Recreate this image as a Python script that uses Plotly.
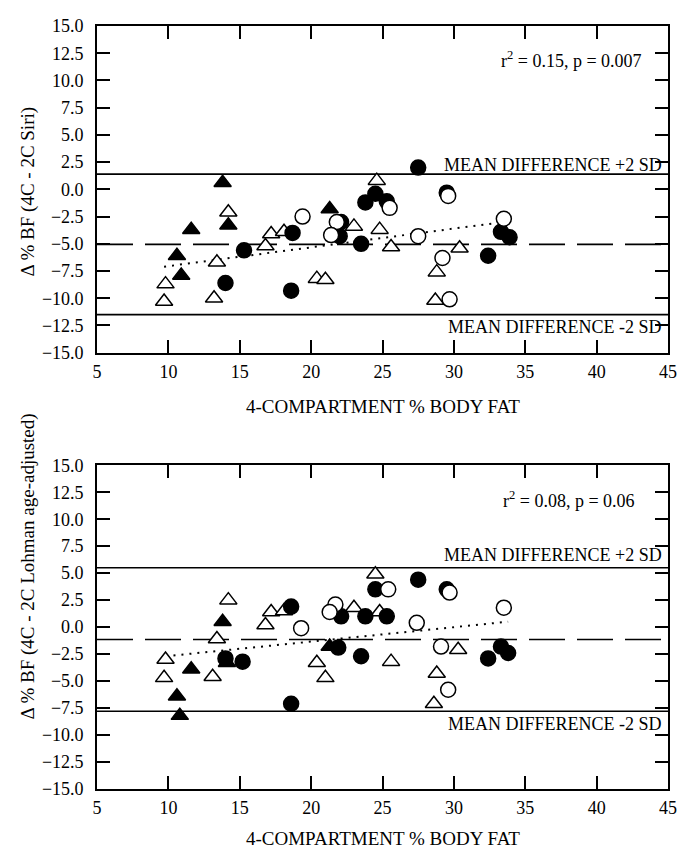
import plotly.graph_objects as go

# ---------------- Top panel (4C - 2C Siri) ----------------
top_filled_circle_x = [14.0, 15.3, 18.7, 18.6, 22.1, 22.0, 23.5, 23.8, 24.5, 25.3, 27.5, 29.5, 32.4, 33.3, 33.9]
top_filled_circle_y = [-8.6, -5.6, -4.0, -9.3, -3.0, -4.3, -5.0, -1.2, -0.4, -1.1, 2.0, -0.3, -6.1, -3.9, -4.4]
top_open_circle_x = [19.4, 21.8, 21.4, 25.5, 27.5, 29.6, 29.2, 29.7, 33.5]
top_open_circle_y = [-2.5, -3.0, -4.2, -1.7, -4.3, -0.6, -6.3, -10.1, -2.7]
top_filled_tri_x = [13.8, 14.2, 11.6, 10.6, 10.9, 21.3]
top_filled_tri_y = [0.6, -3.3, -3.7, -6.1, -7.9, -1.8]
top_open_tri_x = [14.2, 9.8, 9.7, 13.4, 13.2, 16.8, 17.2, 18.1, 20.4, 21.0, 23.0, 24.6, 24.8, 25.6, 28.8, 28.7, 30.4]
top_open_tri_y = [-2.1, -8.7, -10.3, -6.7, -10.0, -5.2, -4.1, -3.9, -8.2, -8.3, -3.4, 0.8, -3.7, -5.3, -7.6, -10.2, -5.4]
top_mean, top_upper, top_lower = -5.05, 1.4, -11.5
top_fit_x = [9.7, 32.9]
top_fit_y = [-7.1, -3.1]
top_stat_text = "r<sup>2</sup> = 0.15, p = 0.007"
top_ytitle = "Δ % BF (4C - 2C Siri)"

# ---------------- Bottom panel (4C - 2C Lohman age-adjusted) ----------------
bot_filled_circle_x = [14.0, 15.2, 18.6, 18.6, 21.9, 22.1, 23.5, 23.8, 24.5, 25.3, 27.5, 29.5, 32.4, 33.3, 33.8]
bot_filled_circle_y = [-2.9, -3.2, 1.9, -7.1, -1.9, 1.0, -2.7, 1.0, 3.5, 1.0, 4.4, 3.5, -2.9, -1.8, -2.4]
bot_open_circle_x = [19.3, 21.7, 21.3, 25.4, 27.4, 29.7, 29.1, 29.6, 33.5]
bot_open_circle_y = [-0.1, 2.1, 1.4, 3.5, 0.4, 3.2, -1.8, -5.8, 1.8]
bot_filled_tri_x = [13.8, 14.1, 11.6, 10.6, 10.8, 21.3]
bot_filled_tri_y = [0.5, -3.3, -3.9, -6.4, -8.2, -1.8]
bot_open_tri_x = [14.2, 9.8, 9.7, 13.4, 13.1, 16.8, 17.2, 18.1, 20.4, 21.0, 23.0, 24.5, 24.8, 25.6, 28.8, 28.6, 30.3]
bot_open_tri_y = [2.5, -3.0, -4.7, -1.1, -4.6, 0.2, 1.4, 1.5, -3.3, -4.7, 1.8, 4.9, 1.4, -3.2, -4.3, -7.1, -2.1]
bot_mean, bot_upper, bot_lower = -1.15, 5.5, -7.8
bot_fit_x = [9.8, 33.8]
bot_fit_y = [-2.7, 0.5]
bot_stat_text = "r<sup>2</sup> = 0.08, p = 0.06"
bot_ytitle = "Δ % BF (4C - 2C Lohman age-adjusted)"

x_title = "4-COMPARTMENT % BODY FAT"
upper_label = "MEAN DIFFERENCE +2 SD"
lower_label = "MEAN DIFFERENCE -2 SD"
x_ticks = [5, 10, 15, 20, 25, 30, 35, 40, 45]
y_ticks = [15.0, 12.5, 10.0, 7.5, 5.0, 2.5, 0.0, -2.5, -5.0, -7.5, -10.0, -12.5, -15.0]
x_range = [5, 45]
y_range = [-15, 15]

FONT = "Liberation Serif, Times New Roman, serif"
# page body has an 8px margin: keep the figure inside the 685x858 window
OFF = 8
W, H = 685 - OFF, 858 - 2 * OFF
fig = go.Figure()


def add_panel(xa, ya, fc, oc, ft, ot, mean, upper, lower, fitx, fity):
    for yv, dash in [(upper, "solid"), (lower, "solid"), (mean, "36px,12px")]:
        fig.add_trace(go.Scatter(x=x_range, y=[yv, yv], mode="lines", xaxis=xa, yaxis=ya,
                                 line=dict(color="black", width=1.6, dash=dash),
                                 showlegend=False, hoverinfo="skip"))
    fig.add_trace(go.Scatter(x=fitx, y=fity, mode="lines", xaxis=xa, yaxis=ya,
                             line=dict(color="black", width=2, dash="2px,6px"),
                             showlegend=False, hoverinfo="skip"))
    fig.add_trace(go.Scatter(x=ot[0], y=ot[1], mode="markers", xaxis=xa, yaxis=ya,
                             marker=dict(symbol="triangle-up", size=15, color="white",
                                         line=dict(color="black", width=1.5)),
                             showlegend=False))
    fig.add_trace(go.Scatter(x=ft[0], y=ft[1], mode="markers", xaxis=xa, yaxis=ya,
                             marker=dict(symbol="triangle-up", size=15, color="black",
                                         line=dict(color="black", width=1.5)),
                             showlegend=False))
    fig.add_trace(go.Scatter(x=fc[0], y=fc[1], mode="markers", xaxis=xa, yaxis=ya,
                             marker=dict(symbol="circle", size=15, color="black",
                                         line=dict(color="black", width=1.5)),
                             showlegend=False))
    fig.add_trace(go.Scatter(x=oc[0], y=oc[1], mode="markers", xaxis=xa, yaxis=ya,
                             marker=dict(symbol="circle", size=15, color="white",
                                         line=dict(color="black", width=1.5)),
                             showlegend=False))


add_panel("x", "y", (top_filled_circle_x, top_filled_circle_y), (top_open_circle_x, top_open_circle_y),
          (top_filled_tri_x, top_filled_tri_y), (top_open_tri_x, top_open_tri_y),
          top_mean, top_upper, top_lower, top_fit_x, top_fit_y)
add_panel("x2", "y2", (bot_filled_circle_x, bot_filled_circle_y), (bot_open_circle_x, bot_open_circle_y),
          (bot_filled_tri_x, bot_filled_tri_y), (bot_open_tri_x, bot_open_tri_y),
          bot_mean, bot_upper, bot_lower, bot_fit_x, bot_fit_y)

# screen-pixel targets (window coordinates)
S_LEFT, S_RIGHT = 97, 673
S_TOP1, S_BOT1 = 16, 347
S_TOP2, S_BOT2 = 461, 789

ML = S_LEFT - OFF
MR = W - (S_RIGHT - OFF)
MT = S_TOP1 - OFF
MB = H - (S_BOT2 - OFF)
PH = H - MT - MB
PW = W - ML - MR


def py2paper(py):
    return (H - MB - (py - OFF)) / PH


def px2paper(px):
    return (px - OFF - ML) / PW


axis_common = dict(showline=True, linecolor="black", linewidth=1.6, mirror="ticks",
                   ticks="inside", ticklen=13, tickwidth=1.5, tickcolor="black",
                   showgrid=False, zeroline=False,
                   tickfont=dict(family=FONT, size=18, color="black"))

fig.update_layout(
    width=W, height=H,
    margin=dict(l=ML, r=MR, t=MT, b=MB),
    paper_bgcolor="white", plot_bgcolor="white",
    showlegend=False,
    xaxis=dict(domain=[0, 1], range=x_range, tickvals=x_ticks, anchor="y",
               ticklabelstandoff=2, **axis_common),
    yaxis=dict(domain=[py2paper(S_BOT1), 1], range=y_range, tickvals=y_ticks, tickformat=".1f",
               anchor="x", ticklabelstandoff=8, **axis_common),
    xaxis2=dict(domain=[0, 1], range=x_range, tickvals=x_ticks, anchor="y2",
                ticklabelstandoff=2, **axis_common),
    yaxis2=dict(domain=[0, py2paper(S_TOP2)], range=y_range, tickvals=y_ticks, tickformat=".1f",
                anchor="x2", ticklabelstandoff=8, **axis_common),
)

ann_font = dict(family=FONT, size=18, color="black")
title_font = dict(family=FONT, size=19, color="black")
anns = [
    dict(x=43.3, y=11.9, xref="x", yref="y", text=top_stat_text, xanchor="right", yanchor="middle"),
    dict(x=44.75, y=2.2, xref="x", yref="y", text=upper_label, xanchor="right", yanchor="middle"),
    dict(x=44.75, y=-12.6, xref="x", yref="y", text=lower_label, xanchor="right", yanchor="middle"),
    dict(x=42.8, y=11.8, xref="x2", yref="y2", text=bot_stat_text, xanchor="right", yanchor="middle"),
    dict(x=44.75, y=6.7, xref="x2", yref="y2", text=upper_label, xanchor="right", yanchor="middle"),
    dict(x=44.75, y=-9.0, xref="x2", yref="y2", text=lower_label, xanchor="right", yanchor="middle"),
]
for a in anns:
    fig.add_annotation(showarrow=False, font=ann_font, **a)

for py in (S_BOT1 + 54, S_BOT2 + 50):
    fig.add_annotation(x=0.5, y=py2paper(py), xref="paper", yref="paper", text=x_title,
                       showarrow=False, font=title_font, xanchor="center", yanchor="middle")
for py, txt in ((184, top_ytitle), (564, bot_ytitle)):
    fig.add_annotation(x=px2paper(27), y=py2paper(py), xref="paper", yref="paper", text=txt,
                       textangle=-90, showarrow=False, font=title_font,
                       xanchor="center", yanchor="middle")

fig.write_html("out.html")
